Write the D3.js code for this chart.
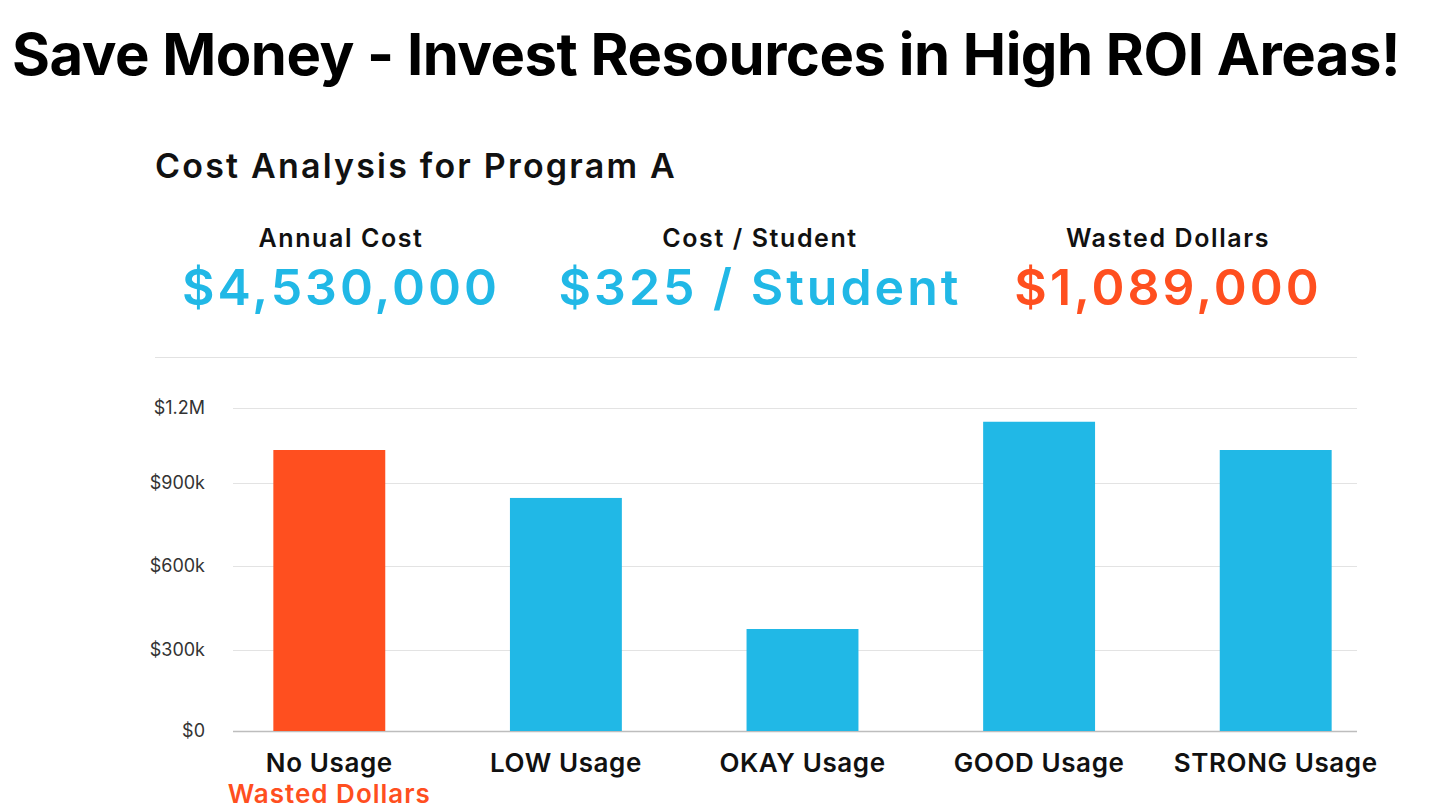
<!DOCTYPE html>
<html>
<head>
<meta charset="utf-8">
<script src="https://cdn.jsdelivr.net/npm/d3@7"></script>
<style>
  body { margin: 0; background: #fff; }
  svg { display: block; font-family: Inter, "Open Sans", sans-serif; }
</style>
</head>
<body>
<svg id="chart"></svg>
<script>
const width = 1445;
const height = 811;

const categories = ["No Usage", "LOW Usage", "OKAY Usage", "GOOD Usage", "STRONG Usage"];
const costs = [1032000, 846000, 375000, 1145000, 1032000];
const wasted = [true, false, false, false, false];
const yTicks = [0, 300000, 600000, 900000, 1200000];
const yTickLabels = ["$0", "$300k", "$600k", "$900k", "$1.2M"];

const kpiLabels = ["Annual Cost", "Cost / Student", "Wasted Dollars"];
const kpiValues = ["$4,530,000", "$325 / Student", "$1,089,000"];
const kpiCenters = [341, 760, 1168];
const kpiColors = ["#21b8e6", "#21b8e6", "#ff4f1f"];

const blue = "#21b8e6";
const orange = "#ff4f1f";

const svg = d3.select("#chart")
    .attr("width", width)
    .attr("height", height);

// Big headline
svg.append("text")
    .attr("x", 12)
    .attr("y", 75)
    .attr("font-size", 58)
    .attr("font-weight", 700)
    .attr("letter-spacing", -0.5)
    .attr("fill", "#000")
    .text("Save Money - Invest Resources in High ROI Areas!");

// Card title
svg.append("text")
    .attr("x", 155)
    .attr("y", 178)
    .attr("font-size", 34)
    .attr("font-weight", 600)
    .attr("letter-spacing", 2.2)
    .attr("fill", "#111")
    .text("Cost Analysis for Program A");

// KPI row
const kpi = svg.append("g")
    .selectAll("g")
    .data(kpiLabels)
    .join("g")
    .attr("transform", (d, i) => `translate(${kpiCenters[i]},0)`);

kpi.append("text")
    .attr("text-anchor", "middle")
    .attr("y", 247)
    .attr("font-size", 25)
    .attr("font-weight", 600)
    .attr("letter-spacing", 1.6)
    .attr("fill", "#111")
    .text(d => d);

kpi.append("text")
    .attr("text-anchor", "middle")
    .attr("y", 305)
    .attr("font-size", 50)
    .attr("font-weight", 600)
    .attr("letter-spacing", 3)
    .attr("fill", (d, i) => kpiColors[i])
    .text((d, i) => kpiValues[i]);

// Separator
svg.append("line")
    .attr("x1", 155).attr("x2", 1357)
    .attr("y1", 357.5).attr("y2", 357.5)
    .attr("stroke", "#e2e2e2")
    .attr("stroke-width", 1);

// Scales
const x = d3.scaleBand()
    .domain(categories)
    .range([211, 1394])
    .paddingInner(0.527)
    .paddingOuter(0.2635);

// gridlines in the picture are not quite evenly spaced, so map each tick
const y = d3.scaleLinear()
    .domain(yTicks)
    .range([731, 650, 566, 483, 408]);

const gridLeft = 233;
const gridRight = 1357;

// Gridlines + y labels
const yAxis = d3.axisLeft(y)
    .tickValues(yTicks)
    .tickFormat((d, i) => yTickLabels[i])
    .tickSize(-(gridRight - gridLeft))
    .tickPadding(28);

const yg = svg.append("g")
    .attr("transform", `translate(${gridLeft},0)`)
    .call(yAxis);
yg.select(".domain").remove();
yg.selectAll(".tick line")
    .attr("stroke", d => d === 0 ? "#bdbdbd" : "#e3e3e3")
    .attr("stroke-width", d => d === 0 ? 1.5 : 1);
yg.selectAll(".tick text")
    .attr("font-family", "Inter, sans-serif")
    .attr("font-size", 18)
    .attr("fill", "#333");

// Bars
svg.append("g")
    .selectAll("rect")
    .data(categories)
    .join("rect")
    .attr("x", d => x(d))
    .attr("width", x.bandwidth())
    .attr("y", (d, i) => y(costs[i]))
    .attr("height", (d, i) => y(0) - y(costs[i]))
    .attr("fill", (d, i) => wasted[i] ? orange : blue);

// Category labels
const xl = svg.append("g")
    .selectAll("g")
    .data(categories)
    .join("g")
    .attr("transform", d => `translate(${x(d) + x.bandwidth() / 2},0)`);

xl.append("text")
    .attr("text-anchor", "middle")
    .attr("y", 772)
    .attr("font-size", 26)
    .attr("font-weight", 600)
    .attr("letter-spacing", 0.6)
    .attr("fill", "#111")
    .text(d => d);

xl.filter((d, i) => wasted[i])
    .append("text")
    .attr("text-anchor", "middle")
    .attr("y", 803)
    .attr("font-size", 26)
    .attr("font-weight", 600)
    .attr("letter-spacing", 1)
    .attr("fill", orange)
    .text("Wasted Dollars");
</script>
</body>
</html>
